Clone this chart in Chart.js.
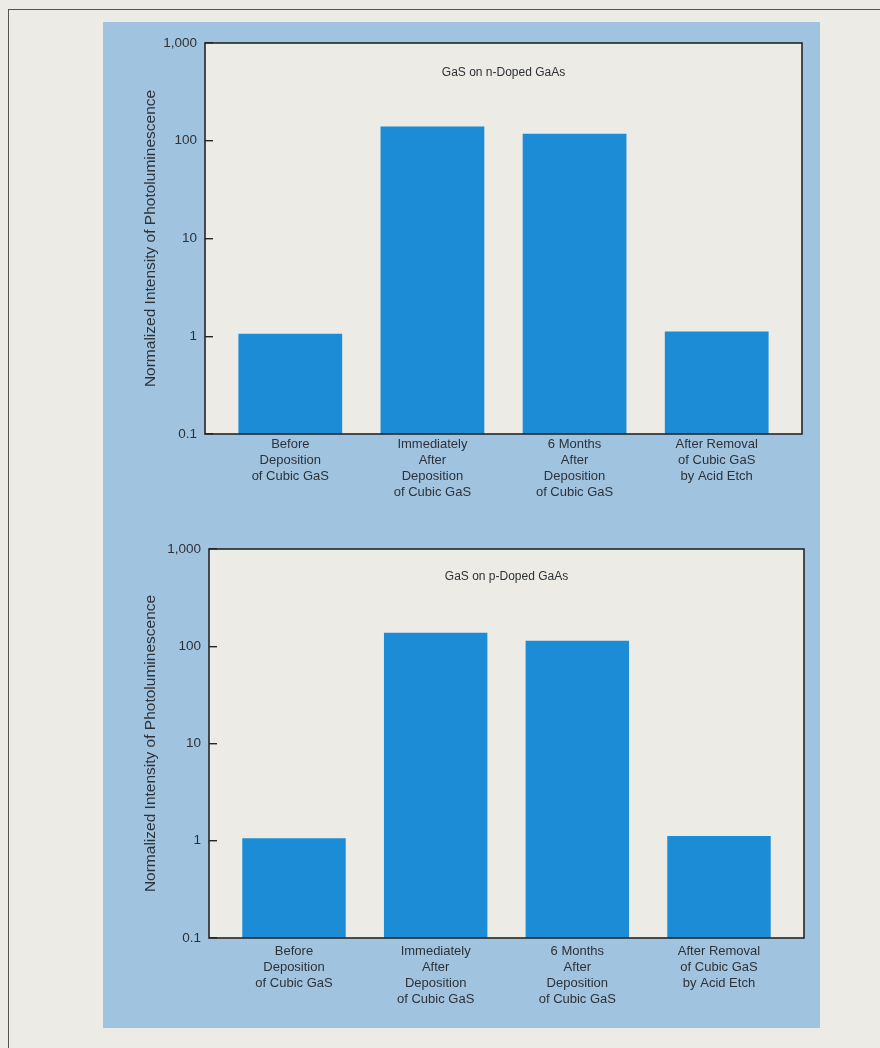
<!DOCTYPE html>
<html>
<head>
<meta charset="utf-8">
<script src="https://cdn.jsdelivr.net/npm/chart.js@4.4.1/dist/chart.umd.min.js"></script>
<style>
  html, body { margin: 0; padding: 0; }
  body { width: 880px; height: 1048px; background: #ecebe5; position: relative; overflow: hidden; }
  #rule-top { position: absolute; left: 8px; top: 9px; width: 872px; height: 0; border-top: 1.5px solid #555; }
  #rule-left { position: absolute; left: 8px; top: 9px; width: 0; height: 1039px; border-left: 1.5px solid #555; }
  #panel { position: absolute; left: 103px; top: 22px; width: 717px; height: 1006px; background: #a0c4e0; }
  canvas { position: absolute; }
  #c1 { left: 110px; top: 30px; }
  #c2 { left: 110px; top: 536px; }
</style>
</head>
<body>
<div id="rule-top"></div>
<div id="rule-left"></div>
<div id="panel"></div>
<canvas id="c1" width="710" height="500"></canvas>
<canvas id="c2" width="710" height="500"></canvas>
<script>
// ---- data ----
const categories = [
  ["Before", "Deposition", "of Cubic GaS"],
  ["Immediately", "After", "Deposition", "of Cubic GaS"],
  ["6 Months", "After", "Deposition", "of Cubic GaS"],
  ["After Removal", "of Cubic GaS", "by Acid Etch"]
];
const nDopedValues = [1.06, 140, 118, 1.12];
const pDopedValues = [1.06, 138, 114, 1.12];
const yTickValues = [0.1, 1, 10, 100, 1000];
const yTickLabels = ["0.1", "1", "10", "100", "1,000"];
const yAxisTitle = "Normalized Intensity of Photoluminescence";
const titleN = "GaS on n-Doped GaAs";
const titleP = "GaS on p-Doped GaAs";

// ---- styling ----
const FONT = "'Liberation Sans', Arial, Helvetica, sans-serif";
const TEXT = "#2e3236";
const BAR = "#1c8cd6";
const PAPER = "#ecebe5";
const FRAME = "#262626";

const boxPlugin = {
  id: 'box',
  beforeDraw(chart) {
    const a = chart.chartArea, ctx = chart.ctx;
    ctx.save();
    ctx.fillStyle = PAPER;
    ctx.fillRect(a.left, a.top, a.right - a.left, a.bottom - a.top);
    ctx.restore();
  },
  afterDatasetsDraw(chart) {
    const a = chart.chartArea, ctx = chart.ctx;
    ctx.save();
    ctx.strokeStyle = FRAME;
    ctx.lineWidth = 1.6;
    ctx.strokeRect(a.left, a.top, a.right - a.left, a.bottom - a.top);
    const t = chart.options.plugins.innerTitle;
    ctx.fillStyle = TEXT;
    ctx.font = "12px " + FONT;
    ctx.textAlign = "center";
    ctx.textBaseline = "middle";
    ctx.fillText(t.text, (a.left + a.right) / 2, a.top + t.offset);
    ctx.restore();
  }
};

function makeChart(id, values, title, layout) {
  return new Chart(document.getElementById(id), {
    type: 'bar',
    data: {
      datasets: [{
        data: values.map((v, i) => ({ x: i, y: v })),
        backgroundColor: BAR,
        borderWidth: 0,
        categoryPercentage: 1,
        barPercentage: 0.73
      }]
    },
    options: {
      responsive: false,
      animation: false,
      devicePixelRatio: 1,
      layout: { padding: { left: 0, top: layout.top, right: layout.right, bottom: 0 } },
      plugins: {
        legend: { display: false },
        tooltip: { enabled: false },
        innerTitle: { text: title, offset: layout.titleOffset }
      },
      scales: {
        x: {
          type: 'linear',
          offset: false,
          min: -0.6,
          max: categories.length - 0.4,
          grid: { display: false, drawTicks: false },
          border: { display: false },
          afterBuildTicks(scale) { scale.ticks = categories.map((c, i) => ({ value: i })); },
          afterFit(scale) { scale.height = layout.xHeight; scale.paddingLeft = 0; scale.paddingRight = 0; },
          ticks: {
            autoSkip: false,
            maxRotation: 0,
            padding: layout.xPad,
            color: TEXT,
            font: { family: FONT, size: 13, lineHeight: 1.23 },
            callback: (v) => categories[v]
          }
        },
        y: {
          type: 'logarithmic',
          min: yTickValues[0],
          max: yTickValues[yTickValues.length - 1],
          border: { display: false },
          grid: { display: true, drawOnChartArea: false, drawTicks: true, tickLength: -8, color: FRAME, lineWidth: 1.4 },
          afterBuildTicks(scale) { scale.ticks = yTickValues.map(v => ({ value: v })); },
          afterFit(scale) { scale.width = layout.yWidth; scale.paddingTop = 0; scale.paddingBottom = 0; },
          ticks: {
            padding: 16,
            color: TEXT,
            font: { family: FONT, size: 13.5 },
            callback: (v) => yTickLabels[yTickValues.indexOf(v)]
          },
          title: {
            display: true,
            text: yAxisTitle,
            color: TEXT,
            font: { family: FONT, size: 15.5 },
            padding: { top: layout.titlePad, bottom: 0 }
          }
        }
      }
    },
    plugins: [boxPlugin]
  });
}

makeChart('c1', nDopedValues, titleN, { top: 13, right: 18, xHeight: 96, yWidth: 95, titlePad: 31, titleOffset: 30, xPad: 2 });
makeChart('c2', pDopedValues, titleP, { top: 13, right: 16, xHeight: 98, yWidth: 99, titlePad: 31, titleOffset: 28, xPad: 5 });
</script>
</body>
</html>
